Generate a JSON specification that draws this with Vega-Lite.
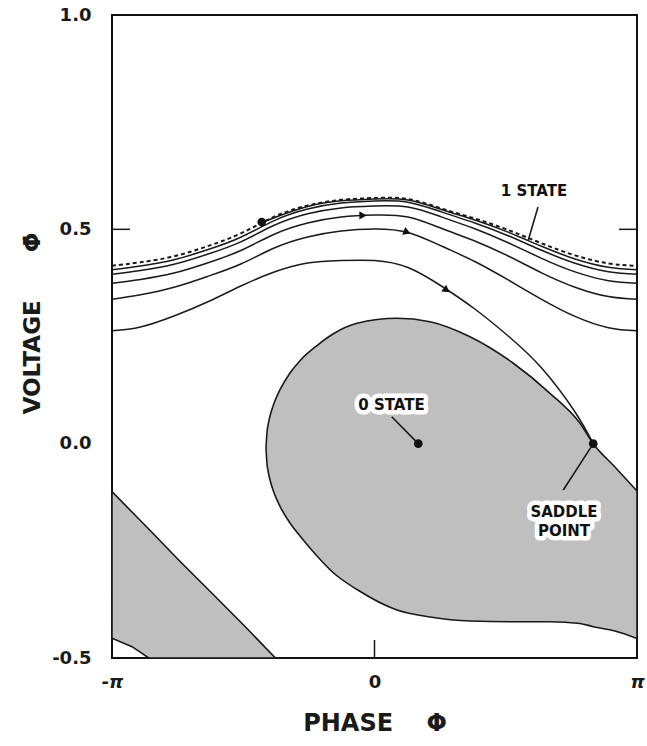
{
  "$schema": "https://vega.github.io/schema/vega-lite/v6.json",
  "autosize": {"type": "none"},
  "width": 525,
  "height": 643,
  "padding": {"left": 112, "top": 15, "right": 10, "bottom": 88},
  "background": "white",
  "config": {"view": {"stroke": "#111", "strokeWidth": 2}, "font": "DejaVu Sans"},
  "datasets": {
    "band": [
      {"x": -3.1416, "top": -0.112, "bot": -0.454},
      {"x": -2.902, "top": -0.1595, "bot": -0.4736},
      {"x": -2.702, "top": -0.199, "bot": -0.5},
      {"x": -2.3438, "top": -0.2714, "bot": -0.5},
      {"x": -1.9447, "top": -0.349, "bot": -0.5},
      {"x": -1.546, "top": -0.427, "bot": -0.5},
      {"x": -1.1865, "top": -0.5, "bot": -0.5}
    ],
    "tear": [
      {"x": -1.2985, "top": -0.0101, "bot": -0.0101},
      {"x": -1.2865, "top": 0.0272, "bot": -0.0474},
      {"x": -1.2745, "top": 0.0426, "bot": -0.0628},
      {"x": -1.2506, "top": 0.0645, "bot": -0.0848},
      {"x": -1.2027, "top": 0.0942, "bot": -0.1144},
      {"x": -1.1309, "top": 0.1261, "bot": -0.1463},
      {"x": -1.0113, "top": 0.1649, "bot": -0.1851},
      {"x": -0.8916, "top": 0.1936, "bot": -0.2154},
      {"x": -0.6881, "top": 0.229, "bot": -0.262},
      {"x": -0.4967, "top": 0.2558, "bot": -0.3005},
      {"x": -0.2094, "top": 0.2808, "bot": -0.3402},
      {"x": 0.2693, "top": 0.2925, "bot": -0.388},
      {"x": 0.6642, "top": 0.2845, "bot": -0.4043},
      {"x": 1.1429, "top": 0.2495, "bot": -0.4137},
      {"x": 1.6575, "top": 0.1882, "bot": -0.4153},
      {"x": 2.1003, "top": 0.1175, "bot": -0.4153},
      {"x": 2.4593, "top": 0.0475, "bot": -0.4195},
      {"x": 2.618, "top": 0, "bot": -0.427},
      {"x": 2.8776, "top": -0.0544, "bot": -0.437},
      {"x": 3.1416, "top": -0.1104, "bot": -0.4545}
    ],
    "cycle": [
      {"x": -3.1416, "y": 0.4149}, {"x": -2.8, "y": 0.4231}, {"x": -2.4, "y": 0.4371},
      {"x": -2.0, "y": 0.4605}, {"x": -1.6, "y": 0.4905}, {"x": -1.2, "y": 0.5295},
      {"x": -0.8, "y": 0.5555}, {"x": -0.4, "y": 0.5688}, {"x": 0, "y": 0.5731},
      {"x": 0.4, "y": 0.5708}, {"x": 0.8, "y": 0.5486}, {"x": 1.2, "y": 0.5253},
      {"x": 1.6, "y": 0.4985}, {"x": 2.0, "y": 0.4674}, {"x": 2.4, "y": 0.4392},
      {"x": 2.8, "y": 0.4205}, {"x": 3.1416, "y": 0.4149}
    ],
    "traj": [
      {"seg": 5, "x": -1.35, "y": 0.5155}, {"seg": 5, "x": -1.2, "y": 0.5272}, {"seg": 5, "x": -0.8, "y": 0.5532},
      {"seg": 5, "x": -0.4, "y": 0.5665}, {"seg": 5, "x": 0, "y": 0.5708}, {"seg": 5, "x": 0.4, "y": 0.5685},
      {"seg": 5, "x": 0.8, "y": 0.5463}, {"seg": 5, "x": 1.2, "y": 0.5218}, {"seg": 5, "x": 1.6, "y": 0.4934},
      {"seg": 5, "x": 2.0, "y": 0.4604}, {"seg": 5, "x": 2.4, "y": 0.4308}, {"seg": 5, "x": 2.8, "y": 0.4114},
      {"seg": 5, "x": 3.1416, "y": 0.4056},

      {"seg": 4, "x": -3.1416, "y": 0.4056}, {"seg": 4, "x": -2.8, "y": 0.4142}, {"seg": 4, "x": -2.4, "y": 0.4289},
      {"seg": 4, "x": -2.0, "y": 0.4523}, {"seg": 4, "x": -1.6, "y": 0.4816}, {"seg": 4, "x": -1.2, "y": 0.5204},
      {"seg": 4, "x": -0.8, "y": 0.5472}, {"seg": 4, "x": -0.4, "y": 0.5612}, {"seg": 4, "x": 0, "y": 0.5659},
      {"seg": 4, "x": 0.4, "y": 0.5633}, {"seg": 4, "x": 0.8, "y": 0.5407}, {"seg": 4, "x": 1.2, "y": 0.5148},
      {"seg": 4, "x": 1.6, "y": 0.485}, {"seg": 4, "x": 2.0, "y": 0.4511}, {"seg": 4, "x": 2.4, "y": 0.4208},
      {"seg": 4, "x": 2.8, "y": 0.4009}, {"seg": 4, "x": 3.1416, "y": 0.3951},

      {"seg": 3, "x": -3.1416, "y": 0.3951}, {"seg": 3, "x": -2.8, "y": 0.4037}, {"seg": 3, "x": -2.4, "y": 0.4184},
      {"seg": 3, "x": -2.0, "y": 0.4418}, {"seg": 3, "x": -1.6, "y": 0.4709}, {"seg": 3, "x": -1.2, "y": 0.5094},
      {"seg": 3, "x": -0.8, "y": 0.5362}, {"seg": 3, "x": -0.4, "y": 0.55}, {"seg": 3, "x": 0, "y": 0.5544},
      {"seg": 3, "x": 0.4, "y": 0.5519}, {"seg": 3, "x": 0.8, "y": 0.529}, {"seg": 3, "x": 1.2, "y": 0.5013},
      {"seg": 3, "x": 1.6, "y": 0.4686}, {"seg": 3, "x": 2.0, "y": 0.4324}, {"seg": 3, "x": 2.4, "y": 0.4007},
      {"seg": 3, "x": 2.8, "y": 0.3801}, {"seg": 3, "x": 3.1416, "y": 0.3741},

      {"seg": 2, "x": -3.1416, "y": 0.3741}, {"seg": 2, "x": -2.8, "y": 0.383}, {"seg": 2, "x": -2.4, "y": 0.3979},
      {"seg": 2, "x": -2.0, "y": 0.4215}, {"seg": 2, "x": -1.6, "y": 0.4506}, {"seg": 2, "x": -1.2, "y": 0.4886},
      {"seg": 2, "x": -0.8, "y": 0.5147}, {"seg": 2, "x": -0.4, "y": 0.5287}, {"seg": 2, "x": 0, "y": 0.5334},
      {"seg": 2, "x": 0.4, "y": 0.5288}, {"seg": 2, "x": 0.8, "y": 0.5024}, {"seg": 2, "x": 1.2, "y": 0.4728},
      {"seg": 2, "x": 1.6, "y": 0.4378}, {"seg": 2, "x": 2.0, "y": 0.3986}, {"seg": 2, "x": 2.4, "y": 0.365},
      {"seg": 2, "x": 2.8, "y": 0.3431}, {"seg": 2, "x": 3.1416, "y": 0.3368},

      {"seg": 1, "x": -3.1416, "y": 0.3368}, {"seg": 1, "x": -2.8, "y": 0.3473}, {"seg": 1, "x": -2.4, "y": 0.3648},
      {"seg": 1, "x": -2.0, "y": 0.39}, {"seg": 1, "x": -1.6, "y": 0.4191}, {"seg": 1, "x": -1.2, "y": 0.4564},
      {"seg": 1, "x": -0.8, "y": 0.4821}, {"seg": 1, "x": -0.4, "y": 0.4961}, {"seg": 1, "x": 0, "y": 0.5008},
      {"seg": 1, "x": 0.4, "y": 0.4927}, {"seg": 1, "x": 0.8, "y": 0.4611}, {"seg": 1, "x": 1.2, "y": 0.425},
      {"seg": 1, "x": 1.6, "y": 0.3819}, {"seg": 1, "x": 2.0, "y": 0.3368}, {"seg": 1, "x": 2.4, "y": 0.2969},
      {"seg": 1, "x": 2.8, "y": 0.2705}, {"seg": 1, "x": 3.1416, "y": 0.2633},

      {"seg": 0, "x": -3.1416, "y": 0.2633}, {"seg": 0, "x": -2.8, "y": 0.2722}, {"seg": 0, "x": -2.4, "y": 0.2978},
      {"seg": 0, "x": -2.0, "y": 0.3304}, {"seg": 0, "x": -1.6, "y": 0.3677}, {"seg": 0, "x": -1.2, "y": 0.4004},
      {"seg": 0, "x": -0.8, "y": 0.4214}, {"seg": 0, "x": -0.4, "y": 0.4273}, {"seg": 0, "x": 0, "y": 0.4273},
      {"seg": 0, "x": 0.4, "y": 0.411}, {"seg": 0, "x": 0.8, "y": 0.3678}, {"seg": 0, "x": 1.2, "y": 0.3141},
      {"seg": 0, "x": 1.6, "y": 0.2512}, {"seg": 0, "x": 2.0, "y": 0.1765}, {"seg": 0, "x": 2.4, "y": 0.0739},
      {"seg": 0, "x": 2.618, "y": 0}
    ],
    "ticks": [
      {"x": -3.1416, "x2": -2.926, "y": 0.5, "y2": 0.5},
      {"x": 2.926, "x2": 3.1416, "y": 0.5, "y2": 0.5},
      {"x": 0, "x2": 0, "y": -0.5, "y2": -0.458}
    ],
    "leaders": [
      {"x": 1.957, "y": 0.5521, "x2": 1.841, "y2": 0.4749},
      {"x": 0.206, "y": 0.0629, "x2": 0.5236, "y2": 0},
      {"x": 2.259, "y": -0.1081, "x2": 2.618, "y2": 0}
    ],
    "dots": [
      {"x": -1.35, "y": 0.517},
      {"x": 0.5236, "y": 0},
      {"x": 2.618, "y": 0}
    ],
    "arrows": [
      {"x": -0.138, "y": 0.5325, "ang": 0},
      {"x": 0.39, "y": 0.4935, "ang": 22},
      {"x": 0.864, "y": 0.358, "ang": 35}
    ],
    "labels": [
      {"t": "1 STATE", "x": 1.909, "y": 0.5894, "halo": 0},
      {"t": "0 STATE", "x": 0.2034, "y": 0.0902, "halo": 1},
      {"t": "SADDLE\nPOINT", "x": 2.268, "y": -0.1594, "halo": 1}
    ]
  },
  "layer": [
    {
      "data": {"name": "band"},
      "mark": {"type": "area", "fill": "#bfbfbf", "stroke": "#1a1a1a", "strokeWidth": 1.6, "fillOpacity": 1},
      "encoding": {
        "x": {
          "field": "x", "type": "quantitative",
          "scale": {"domain": [-3.141592653589793, 3.141592653589793], "nice": false, "zero": false},
          "axis": {
            "values": [-3.141592653589793, 0, 3.141592653589793],
            "labelExpr": "datum.value < -1 ? '-π' : (datum.value > 1 ? 'π' : '0')",
            "labelFontStyle": {"condition": {"test": "datum.value != 0", "value": "italic"}, "value": "normal"},
            "ticks": false, "domain": false, "grid": false, "tickSize": 0,
            "labelFont": "DejaVu Sans", "labelFontWeight": "bold", "labelFontSize": 18,
            "labelColor": "#1a1a1a", "labelPadding": 15, "labelFlush": false,
            "title": "PHASE\u00a0\u00a0\u00a0\u00a0\u03a6", "titleFont": "DejaVu Sans", "titleFontSize": 24,
            "titleFontWeight": "bold", "titleColor": "#1a1a1a", "titlePadding": 20
          }
        },
        "y": {
          "field": "top", "type": "quantitative",
          "scale": {"domain": [-0.5, 1.0], "nice": false, "zero": false},
          "axis": {
            "values": [-0.5, 0, 0.5, 1.0],
            "labelExpr": "datum.value == -0.5 ? '-0.5' : format(datum.value, '.1f')",
            "ticks": false, "domain": false, "grid": false, "tickSize": 0,
            "labelFont": "DejaVu Sans", "labelFontWeight": "bold", "labelFontSize": 18,
            "labelColor": "#1a1a1a", "labelPadding": 21, "labelFlush": false,
            "title": "VOLTAGE\u00a0\u00a0\u00a0\u00a0\u00a0\u00a0\u03a6\u0307", "titleFont": "DejaVu Sans", "titleFontSize": 23,
            "titleFontWeight": "bold", "titleColor": "#1a1a1a", "titlePadding": 7, "titleY": 308
          }
        },
        "y2": {"field": "bot"}
      }
    },
    {
      "data": {"name": "tear"},
      "mark": {"type": "area", "fill": "#bfbfbf", "stroke": "#1a1a1a", "strokeWidth": 1.6, "interpolate": "monotone", "fillOpacity": 1},
      "encoding": {
        "x": {"field": "x", "type": "quantitative"},
        "y": {"field": "top", "type": "quantitative"},
        "y2": {"field": "bot"}
      }
    },
    {
      "mark": {"type": "rule", "color": "#1a1a1a", "strokeWidth": 1.5},
      "encoding": {"y": {"datum": 0}}
    },
    {
      "data": {"name": "traj"},
      "mark": {"type": "line", "color": "#1a1a1a", "strokeWidth": 1.5, "interpolate": "natural"},
      "encoding": {
        "x": {"field": "x", "type": "quantitative"},
        "y": {"field": "y", "type": "quantitative"},
        "detail": {"field": "seg", "type": "nominal"}
      }
    },
    {
      "data": {"name": "cycle"},
      "mark": {"type": "line", "color": "#1a1a1a", "strokeWidth": 2, "strokeDash": [4, 3], "interpolate": "natural"},
      "encoding": {
        "x": {"field": "x", "type": "quantitative"},
        "y": {"field": "y", "type": "quantitative"}
      }
    },
    {
      "data": {"name": "ticks"},
      "mark": {"type": "rule", "color": "#1a1a1a", "strokeWidth": 1.5},
      "encoding": {
        "x": {"field": "x", "type": "quantitative"},
        "x2": {"field": "x2"},
        "y": {"field": "y", "type": "quantitative"},
        "y2": {"field": "y2"}
      }
    },
    {
      "data": {"name": "leaders"},
      "mark": {"type": "rule", "color": "#1a1a1a", "strokeWidth": 1.6},
      "encoding": {
        "x": {"field": "x", "type": "quantitative"},
        "x2": {"field": "x2"},
        "y": {"field": "y", "type": "quantitative"},
        "y2": {"field": "y2"}
      }
    },
    {
      "data": {"name": "dots"},
      "mark": {"type": "point", "filled": true, "color": "#111", "size": 75, "opacity": 1},
      "encoding": {
        "x": {"field": "x", "type": "quantitative"},
        "y": {"field": "y", "type": "quantitative"}
      }
    },
    {
      "data": {"name": "arrows"},
      "mark": {"type": "point", "shape": "triangle-right", "filled": true, "color": "#111", "size": 70, "opacity": 1},
      "encoding": {
        "x": {"field": "x", "type": "quantitative"},
        "y": {"field": "y", "type": "quantitative"},
        "angle": {"field": "ang", "type": "quantitative", "scale": null}
      }
    },
    {
      "data": {"name": "labels"},
      "transform": [{"filter": "datum.halo == 1"}],
      "mark": {"type": "text", "font": "DejaVu Sans", "fontWeight": "bold", "fontSize": 15, "lineBreak": "\n", "lineHeight": 19, "fill": "white", "stroke": "white", "strokeWidth": 9, "strokeJoin": "round"},
      "encoding": {
        "x": {"field": "x", "type": "quantitative"},
        "y": {"field": "y", "type": "quantitative"},
        "text": {"field": "t"}
      }
    },
    {
      "data": {"name": "labels"},
      "mark": {"type": "text", "font": "DejaVu Sans", "fontWeight": "bold", "fontSize": 15, "lineBreak": "\n", "lineHeight": 19, "color": "#111"},
      "encoding": {
        "x": {"field": "x", "type": "quantitative"},
        "y": {"field": "y", "type": "quantitative"},
        "text": {"field": "t"}
      }
    }
  ]
}
